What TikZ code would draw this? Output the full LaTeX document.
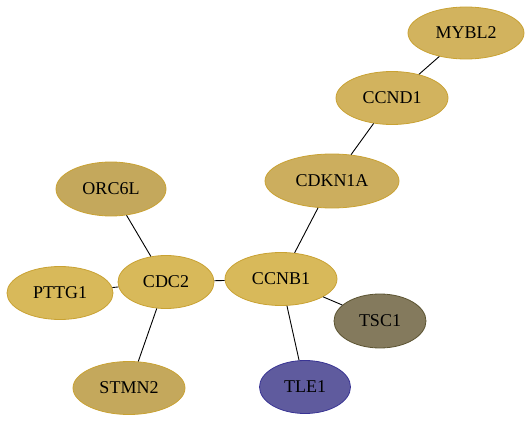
\documentclass[tikz,border=0pt]{standalone}
\usepackage{fontspec}
\setmainfont{Liberation Serif}
\usetikzlibrary{shapes.geometric}
\definecolor{goldA}{HTML}{D8B95A}
\definecolor{goldB}{HTML}{D2B35E}
\definecolor{goldC}{HTML}{CCAE5E}
\definecolor{goldD}{HTML}{C4A85C}
\definecolor{goldEdge}{HTML}{C9A233}
\definecolor{tscfill}{HTML}{847A5D}
\definecolor{tscedge}{HTML}{5C5432}
\definecolor{tlefill}{HTML}{5F5B9E}
\definecolor{tleedge}{HTML}{393494}
\tikzset{
  gene/.style={ellipse, draw=goldEdge, line width=0.8pt, inner sep=0pt,
    font=\fontsize{18}{20}\selectfont, text=black},
  link/.style={draw=black, line width=0.9pt}
}
\begin{document}
\begin{tikzpicture}[x=1pt,y=1pt]
\useasboundingbox (0,0) rectangle (532,421);
\node[gene, fill=goldB, minimum width=116, minimum height=52] (MYBL2) at (466,388) {MYBL2};
\node[gene, fill=goldB, minimum width=112, minimum height=53] (CCND1) at (392,323) {CCND1};
\node[gene, fill=goldC, minimum width=134, minimum height=54] (CDKN1A) at (332,240) {CDKN1A};
\node[gene, fill=goldD, minimum width=110, minimum height=54] (ORC6L) at (111,232) {ORC6L};
\node[gene, fill=goldA, minimum width=106, minimum height=53] (PTTG1) at (60,128) {PTTG1};
\node[gene, fill=goldA, minimum width=96, minimum height=53] (CDC2) at (166,139) {CDC2};
\node[gene, fill=goldA, minimum width=112, minimum height=53] (CCNB1) at (281,142) {CCNB1};
\node[gene, fill=goldD, minimum width=112, minimum height=53] (STMN2) at (129,33) {STMN2};
\node[gene, fill=tlefill, draw=tleedge, minimum width=91, minimum height=53] (TLE1) at (305,34) {TLE1};
\node[gene, fill=tscfill, draw=tscedge, minimum width=92, minimum height=54] (TSC1) at (380,100) {TSC1};
\draw[link] (MYBL2) -- (CCND1);
\draw[link] (CCND1) -- (CDKN1A);
\draw[link] (CDKN1A) -- (CCNB1);
\draw[link] (ORC6L) -- (CDC2);
\draw[link] (PTTG1) -- (CDC2);
\draw[link] (CDC2) -- (CCNB1);
\draw[link] (CDC2) -- (STMN2);
\draw[link] (CCNB1) -- (TLE1);
\draw[link] (CCNB1) -- (TSC1);
\end{tikzpicture}
\end{document}
